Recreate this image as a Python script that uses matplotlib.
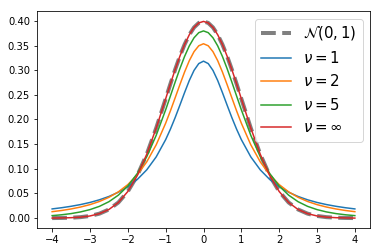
import matplotlib
matplotlib.use("Agg")
import matplotlib.pyplot as plt

# sample points (symmetric around 0, denser near the peak)
x = [-4.0, -3.75, -3.5, -3.25, -3.0, -2.75, -2.5, -2.25, -2.0, -1.75, -1.5, -1.25, -1.0,
     -0.875, -0.75, -0.625, -0.5, -0.375, -0.25, -0.125, 0.0,
     0.125, 0.25, 0.375, 0.5, 0.625, 0.75, 0.875,
     1.0, 1.25, 1.5, 1.75, 2.0, 2.25, 2.5, 2.75, 3.0, 3.25, 3.5, 3.75, 4.0]

normal = [0.0001, 0.0004, 0.0009, 0.0020, 0.0044, 0.0091, 0.0175, 0.0317, 0.0540, 0.0863,
          0.1295, 0.1826, 0.2420,
          0.2721, 0.3011, 0.3282, 0.3521, 0.3719, 0.3867, 0.3958, 0.3989,
          0.3958, 0.3867, 0.3719, 0.3521, 0.3282, 0.3011, 0.2721,
          0.2420, 0.1826, 0.1295, 0.0863, 0.0540, 0.0317, 0.0175, 0.0091, 0.0044, 0.0020,
          0.0009, 0.0004, 0.0001]

nu1 = [0.0187, 0.0211, 0.0240, 0.0275, 0.0318, 0.0372, 0.0439, 0.0525, 0.0637, 0.0784,
       0.0979, 0.1242, 0.1592,
       0.1803, 0.2037, 0.2289, 0.2546, 0.2791, 0.2996, 0.3134, 0.3183,
       0.3134, 0.2996, 0.2791, 0.2546, 0.2289, 0.2037, 0.1803,
       0.1592, 0.1242, 0.0979, 0.0784, 0.0637, 0.0525, 0.0439, 0.0372, 0.0318, 0.0275,
       0.0240, 0.0211, 0.0187]

nu2 = [0.0131, 0.0155, 0.0186, 0.0225, 0.0274, 0.0338, 0.0422, 0.0533, 0.0680, 0.0878,
       0.1141, 0.1487, 0.1925,
       0.2174, 0.2438, 0.2705, 0.2963, 0.3193, 0.3376, 0.3495, 0.3536,
       0.3495, 0.3376, 0.3193, 0.2963, 0.2705, 0.2438, 0.2174,
       0.1925, 0.1487, 0.1141, 0.0878, 0.0680, 0.0533, 0.0422, 0.0338, 0.0274, 0.0225,
       0.0186, 0.0155, 0.0131]

nu5 = [0.0051, 0.0068, 0.0092, 0.0126, 0.0173, 0.0239, 0.0333, 0.0466, 0.0651, 0.0905,
       0.1245, 0.1679, 0.2197,
       0.2476, 0.2757, 0.3029, 0.3279, 0.3493, 0.3657, 0.3761, 0.3796,
       0.3761, 0.3657, 0.3493, 0.3279, 0.3029, 0.2757, 0.2476,
       0.2197, 0.1679, 0.1245, 0.0905, 0.0651, 0.0466, 0.0333, 0.0239, 0.0173, 0.0126,
       0.0092, 0.0068, 0.0051]

nu_inf = normal

fig = plt.figure(figsize=(382 / 72, 252 / 72), dpi=72)
ax = fig.add_axes([37 / 382, 24 / 252, 333 / 382, 217 / 252])

ax.plot(x, normal, '--', color='gray', lw=4, label=r'$\mathcal{N}(0, 1)$')
ax.plot(x, nu1, color='C0', lw=1.5, label=r'$\nu = 1$')
ax.plot(x, nu2, color='C1', lw=1.5, label=r'$\nu = 2$')
ax.plot(x, nu5, color='C2', lw=1.5, label=r'$\nu = 5$')
ax.plot(x, nu_inf, color='C3', lw=1.5, label=r'$\nu = \infty$')

ax.set_xticks([-4, -3, -2, -1, 0, 1, 2, 3, 4])
ax.set_yticks([0.0, 0.05, 0.10, 0.15, 0.20, 0.25, 0.30, 0.35, 0.40])
ax.set_yticklabels(['0.00', '0.05', '0.10', '0.15', '0.20', '0.25', '0.30', '0.35', '0.40'])
ax.set_ylim(-0.02, 0.42)
ax.set_xlim(-4.4, 4.4)
ax.legend(loc='upper right', fontsize=15)

fig.savefig('out.png', dpi=72)
